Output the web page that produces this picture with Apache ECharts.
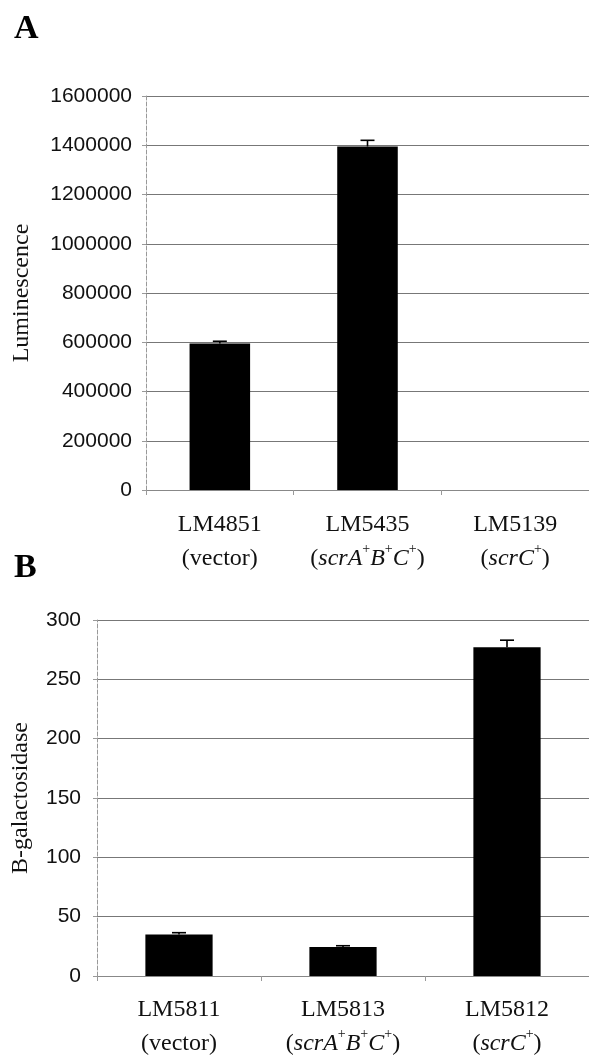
<!DOCTYPE html>
<html>
<head>
<meta charset="utf-8">
<script src="https://cdn.jsdelivr.net/npm/echarts@6/dist/echarts.min.js"></script>
<style>
html,body{margin:0;padding:0;background:#fff;}
#chart{width:589px;height:1056px;}
</style>
</head>
<body>
<div id="chart"></div>
<script>
// Panel A data
const catsA = ['LM4851', 'LM5435', 'LM5139'];
const genoA = ['vector', 'scrABC', 'scrC'];
const valuesA = [595000, 1395000, 0];
const errA = [9000, 25000, 0];
const yMaxA = 1600000, yStepA = 200000;

// Panel B data
const catsB = ['LM5811', 'LM5813', 'LM5812'];
const genoB = ['vector', 'scrABC', 'scrC'];
const valuesB = [35, 24.5, 277];
const errB = [1.5, 1, 6];
const yMaxB = 300, yStepB = 50;

const SERIF = '"Liberation Serif","Times New Roman",serif';
const SANS = '"Liberation Sans",Arial,sans-serif';

const genoRich = {
  vector: '{n|(vector)}',
  scrABC: '{n|(}{i|scrA}{s|+}{i|B}{s|+}{i|C}{s|+}{n|)}',
  scrC: '{n|(}{i|scrC}{s|+}{n|)}'
};
function catFormatter(cats, genos) {
  return function (val) {
    const i = cats.indexOf(val);
    return '{n|' + val + '}\n' + genoRich[genos[i]];
  };
}
const richStyle = {
  n: {fontFamily: SERIF, fontSize: 24, color: '#111', lineHeight: 34},
  i: {fontFamily: SERIF, fontSize: 24, fontStyle: 'italic', color: '#111', lineHeight: 34},
  s: {fontFamily: SERIF, fontSize: 14, color: '#111', verticalAlign: 'top', lineHeight: 27}
};

function errItem(params, api) {
  const x = api.value(0), v = api.value(1), e = api.value(2);
  if (!e) return null;
  const p0 = api.coord([x, v]);
  const p1 = api.coord([x, v + e]);
  const cap = 7;
  return {
    type: 'group',
    children: [
      {type: 'line', shape: {x1: p0[0], y1: p0[1], x2: p1[0], y2: p1[1]}, style: {stroke: '#000', lineWidth: 1.6}},
      {type: 'line', shape: {x1: p1[0] - cap, y1: p1[1], x2: p1[0] + cap, y2: p1[1]}, style: {stroke: '#000', lineWidth: 1.6}}
    ]
  };
}

const gridLine = {show: true, lineStyle: {color: '#777', width: 1}};
const axisLineStyle = {show: true, lineStyle: {color: '#999', width: 1, type: [4, 2]}};
const plainNum = v => String(v);

const option = {
  animation: false,
  backgroundColor: '#fff',
  graphic: [
    {type: 'text', left: 14, top: 12, style: {text: 'A', font: 'bold 34px ' + SERIF, fill: '#000'}},
    {type: 'text', left: 14, top: 551, style: {text: 'B', font: 'bold 34px ' + SERIF, fill: '#000'}}
  ],
  grid: [
    {left: 146, right: -8, top: 96, height: 394},
    {left: 97, right: -8, top: 620, height: 359}
  ],
  xAxis: [
    {
      type: 'category', gridIndex: 0, data: catsA,
      axisLine: {show: true, lineStyle: {color: '#888', width: 1}},
      axisTick: {show: true, length: 5, lineStyle: {color: '#999'}},
      axisLabel: {margin: 18, formatter: catFormatter(catsA, genoA), rich: richStyle, interval: 0}
    },
    {
      type: 'category', gridIndex: 1, data: catsB,
      axisLine: {show: true, lineStyle: {color: '#888', width: 1}},
      axisTick: {show: true, length: 5, lineStyle: {color: '#999'}},
      axisLabel: {margin: 17, formatter: catFormatter(catsB, genoB), rich: richStyle, interval: 0}
    }
  ],
  yAxis: [
    {
      type: 'value', gridIndex: 0, min: 0, max: yMaxA, interval: yStepA,
      name: 'Luminescence', nameLocation: 'middle', nameGap: 112,
      nameTextStyle: {fontFamily: SERIF, fontSize: 24, color: '#111'},
      axisLine: axisLineStyle,
      axisTick: {show: true, length: 4, lineStyle: {color: '#999'}},
      axisLabel: {margin: 14, fontFamily: SANS, fontSize: 21, color: '#111', formatter: plainNum},
      splitLine: gridLine
    },
    {
      type: 'value', gridIndex: 1, min: 0, max: yMaxB, interval: yStepB,
      name: 'B-galactosidase', nameLocation: 'middle', nameGap: 64,
      nameTextStyle: {fontFamily: SERIF, fontSize: 24, color: '#111'},
      axisLine: axisLineStyle,
      axisTick: {show: true, length: 4, lineStyle: {color: '#999'}},
      axisLabel: {margin: 16, fontFamily: SANS, fontSize: 21, color: '#111', formatter: plainNum},
      splitLine: gridLine
    }
  ],
  series: [
    {type: 'bar', xAxisIndex: 0, yAxisIndex: 0, data: valuesA, barWidth: '41%', itemStyle: {color: '#000'}},
    {type: 'custom', xAxisIndex: 0, yAxisIndex: 0, renderItem: errItem,
     data: valuesA.map((v, i) => [i, v, errA[i]]), encode: {x: 0, y: 1}, z: 3},
    {type: 'bar', xAxisIndex: 1, yAxisIndex: 1, data: valuesB, barWidth: '41%', itemStyle: {color: '#000'}},
    {type: 'custom', xAxisIndex: 1, yAxisIndex: 1, renderItem: errItem,
     data: valuesB.map((v, i) => [i, v, errB[i]]), encode: {x: 0, y: 1}, z: 3}
  ]
};

const chart = echarts.init(document.getElementById('chart'), null, {renderer: 'canvas'});
chart.setOption(option);
</script>
</body>
</html>
